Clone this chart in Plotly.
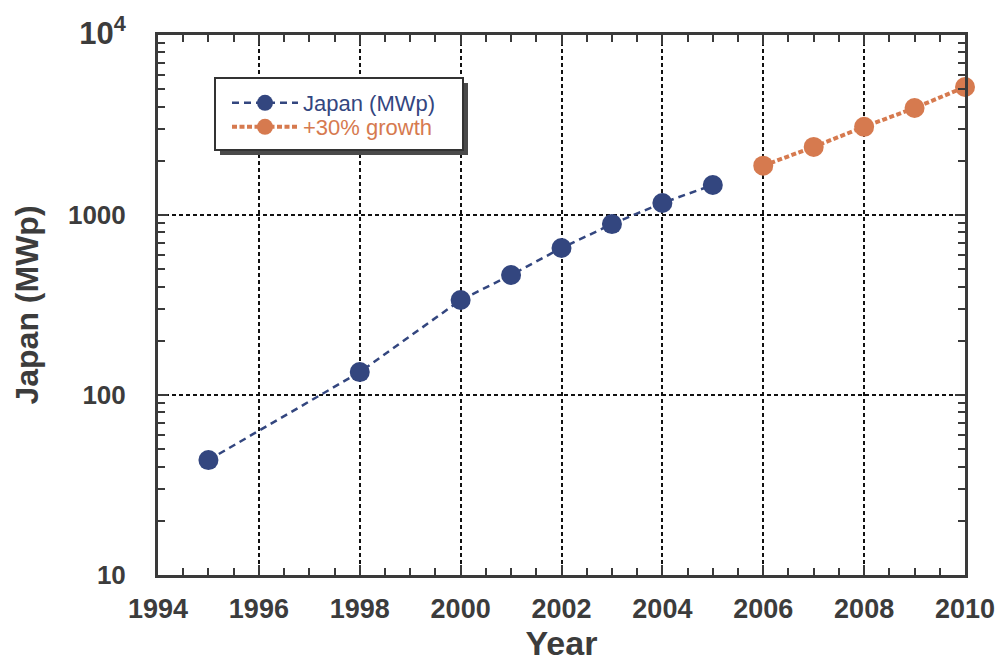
import plotly.graph_objects as go

# ---- data ----
years_japan = [1995, 1998, 2000, 2001, 2002, 2003, 2004, 2005]
japan_mwp = [43.5, 134, 337, 464, 656, 890, 1166, 1468]

years_growth = [2006, 2007, 2008, 2009, 2010]
growth_mwp = [1880, 2390, 3090, 3930, 5140]

x_ticks = [1994, 1996, 1998, 2000, 2002, 2004, 2006, 2008, 2010]
y_ticks = [10, 100, 1000, 10000]
y_ticktext = ["10", "100", "1000", "<span style='font-size:31px'>10<sup>4</sup></span>"]

BLUE = "#33467f"
ORANGE = "#d67a4f"
AXIS = "#3a3a3a"
TEXT = "#3c3c3c"
FONT = "Liberation Sans, Arial, sans-serif"

W, H = 1002, 664
L, R, T, B = 158, 37, 35, 89
pw, ph = W - L - R, H - T - B

def px_x(p):
    return (p - L) / pw

def px_y(p):
    return (H - B - p) / ph

fig = go.Figure()
fig.add_trace(go.Scatter(
    x=years_japan, y=japan_mwp, mode="lines+markers",
    name=f"<span style='color:{BLUE}'>Japan (MWp)</span>",
    line=dict(color=BLUE, width=2.5, dash="7px,5px"),
    marker=dict(color=BLUE, size=20, line=dict(width=0)),
    legend="legend", cliponaxis=False,
))
fig.add_trace(go.Scatter(
    x=years_growth, y=growth_mwp, mode="lines+markers",
    name=f"<span style='color:{ORANGE}'>+30% growth</span>",
    line=dict(color=ORANGE, width=4, dash="5px,2.5px"),
    marker=dict(color=ORANGE, size=20, line=dict(width=0)),
    legend="legend2", cliponaxis=False,
))

# legend box with drop shadow
bx0, bx1, by0, by1 = 215, 463, 78, 150
fig.add_shape(type="rect", xref="paper", yref="paper", layer="above",
              x0=px_x(bx0 + 5), x1=px_x(bx1 + 5), y0=px_y(by0 + 5), y1=px_y(by1 + 5),
              fillcolor="#4a4a4a", line=dict(width=0))
fig.add_shape(type="rect", xref="paper", yref="paper", layer="above",
              x0=px_x(bx0), x1=px_x(bx1), y0=px_y(by0), y1=px_y(by1),
              fillcolor="white", line=dict(color="#333333", width=2))

leg_common = dict(xanchor="left", yanchor="middle",
                  bgcolor="rgba(0,0,0,0)", borderwidth=0,
                  font=dict(size=22, family=FONT), itemwidth=66)

fig.update_layout(
    width=W, height=H,
    margin=dict(l=L, r=R, t=T, b=B, autoexpand=False),
    paper_bgcolor="white", plot_bgcolor="white",
    font=dict(family=FONT, color=TEXT),
    showlegend=True,
    legend=dict(x=px_x(227), y=px_y(103), **leg_common),
    legend2=dict(x=px_x(227), y=px_y(127), **leg_common),
    xaxis=dict(
        range=[1994, 2010], tickvals=x_ticks,
        ticks="inside", ticklen=10, tickwidth=2, tickcolor=AXIS,
        showline=True, linewidth=3, linecolor=AXIS, mirror="ticks",
        showgrid=True, gridcolor="#111111", gridwidth=1.5, griddash="4px,3px",
        tickfont=dict(size=27, family=FONT, color=TEXT, weight="bold"),
        ticklabelstandoff=8,
        minor=dict(dtick=0.5, ticks="inside", ticklen=7, tickwidth=2,
                   tickcolor=AXIS, showgrid=False),
        title=dict(text="Year", font=dict(size=34, family=FONT, color=TEXT, weight="bold"),
                   standoff=6),
        zeroline=False,
    ),
    yaxis=dict(
        type="log", range=[1, 4], tickvals=y_ticks, ticktext=y_ticktext,
        ticks="inside", ticklen=10, tickwidth=2, tickcolor=AXIS,
        showline=True, linewidth=3, linecolor=AXIS, mirror="ticks",
        showgrid=True, gridcolor="#111111", gridwidth=1.5, griddash="4px,3px",
        tickfont=dict(size=26, family=FONT, color=TEXT, weight="bold"),
        ticklabelstandoff=24,
        minor=dict(tickvals=[m * 10 ** e for e in (1, 2, 3) for m in range(2, 10)],
                   ticks="inside", ticklen=7, tickwidth=2, tickcolor=AXIS, showgrid=False),
        title=dict(text="Japan (MWp)", font=dict(size=32, family=FONT, color=TEXT, weight="bold"),
                   standoff=20),
        zeroline=False,
    ),
)

fig.write_html("out.html", config={"displayModeBar": False},
               post_script="document.body.style.margin='0';")
